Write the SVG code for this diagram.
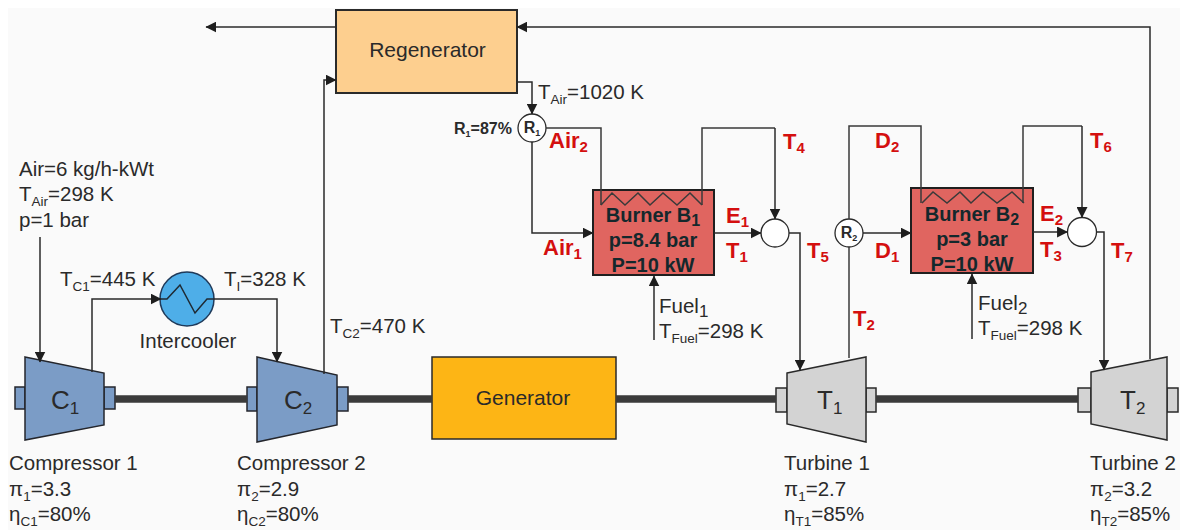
<svg xmlns="http://www.w3.org/2000/svg" width="1180" height="530" viewBox="0 0 1180 530">
<style>
text{font-family:"Liberation Sans",Arial,sans-serif;fill:#2a2a2a;font-size:20.5px}
.r{fill:#d40f0f;font-weight:bold;font-size:22px}
.r tspan{font-size:15px}
.b{font-weight:bold;fill:#14282c;font-size:20px}
.b tspan{font-size:16px}
.m{text-anchor:middle}
.s{font-size:13.5px}
.big{font-size:26px}
.big tspan{font-size:17px}
.sb{font-size:16px;font-weight:bold}
.sb tspan{font-size:9px}
.l{fill:none;stroke:#3a3a3a;stroke-width:1.5}
.a{fill:none;stroke:#2a2a2a;stroke-width:1.5;marker-end:url(#ah)}
.c{fill:#7b9cc6;stroke:#24262c;stroke-width:1.5}
.t{fill:#d3d3d3;stroke:#2a2a2a;stroke-width:1.5}
.sh{stroke:#3b3b3b;stroke-width:7.5;fill:none}
.o{fill:#fff;stroke:#2a2a2a;stroke-width:1.3}
.bu{fill:#e06560;stroke:#1f1f1f;stroke-width:2}
</style>
<defs>
<marker id="ah" viewBox="0 0 10 10" refX="9.5" refY="5" markerUnits="userSpaceOnUse" markerWidth="11" markerHeight="11" orient="auto"><path d="M0 0L10 5L0 10Z" fill="#1e1e1e"/></marker>
</defs>
<rect width="1180" height="530" fill="#fff"/>
<rect x="8" y="8" width="1172" height="522" fill="#fafafa"/>
<g id="compressor-1">
<rect class="c" x="15" y="387" width="10" height="22"/><rect class="c" x="104" y="387" width="11" height="22"/>
<path class="c" d="M25 357L104 373V425L25 440Z"/>
<text x="51" y="409" class="big">C<tspan dy="5">1</tspan></text>
<text x="9" y="470">Compressor 1</text>
<text x="9" y="496">π<tspan class="s" dy="5">1</tspan><tspan dy="-5">=3.3</tspan></text>
<text x="9" y="521">η<tspan class="s" dy="5">C1</tspan><tspan dy="-5">=80%</tspan></text>
</g>
<g id="compressor-2">
<rect class="c" x="247" y="387" width="10" height="24"/><rect class="c" x="337" y="387" width="11" height="24"/>
<path class="c" d="M257 357L337 375V425L257 442Z"/>
<text x="284" y="409" class="big">C<tspan dy="5">2</tspan></text>
<text x="237" y="470">Compressor 2</text>
<text x="237" y="496">π<tspan class="s" dy="5">2</tspan><tspan dy="-5">=2.9</tspan></text>
<text x="237" y="521">η<tspan class="s" dy="5">C2</tspan><tspan dy="-5">=80%</tspan></text>
</g>
<g id="intercooler">
<circle cx="187" cy="299" r="27" fill="#4eaee8" stroke="#1f3a5a" stroke-width="1.5"/>
<path d="M160 299H167L180 285L195 313L207 299H214" fill="none" stroke="#1f2a33" stroke-width="1.5"/>
<text x="188" y="348" class="m">Intercooler</text>
</g>
<g id="regenerator">
<rect x="336" y="10" width="181" height="83" fill="#fdcf8f" stroke="#2a2a2a" stroke-width="2"/>
<text x="427.5" y="57" class="m" style="font-size:21px">Regenerator</text>
</g>
<g id="generator">
<rect x="432" y="357" width="184" height="82" fill="#fdb515" stroke="#2a2a2a" stroke-width="1.5"/>
<text x="523" y="405" class="m" style="font-size:21px">Generator</text>
</g>
<g id="r1">
<circle class="o" cx="532" cy="128" r="14"/>
<text x="532" y="133" class="m sb">R<tspan dy="3">1</tspan></text>
<text x="454" y="134" class="sb">R<tspan dy="3">1</tspan><tspan dy="-3" style="font-size:16px">=87%</tspan></text>
</g>
<g id="burner-1">
<rect class="bu" x="593" y="190" width="121" height="85"/>
<path class="l" d="M601 205L612 193L625 205L638 193L650 205L663 193L677 205L690 193L702 205"/>
<text x="653" y="222" class="m b">Burner B<tspan dy="4">1</tspan></text>
<text x="653" y="247" class="m b">p=8.4 bar</text>
<text x="653" y="272" class="m b">P=10 kW</text>
</g>
<g id="mixer-1"><circle class="o" cx="775" cy="233" r="14"/></g>
<g id="r2">
<circle class="o" cx="849" cy="233" r="14"/>
<text x="849" y="238" class="m sb">R<tspan dy="3">2</tspan></text>
</g>
<g id="burner-2">
<rect class="bu" x="911" y="188" width="122" height="85"/>
<path class="l" d="M922 203L933 192L947 203L960 192L971 203L983 192L997 203L1012 192L1024 203"/>
<text x="972" y="221" class="m b">Burner B<tspan dy="4">2</tspan></text>
<text x="972" y="246" class="m b">p=3 bar</text>
<text x="972" y="271" class="m b">P=10 kW</text>
</g>
<g id="mixer-2"><circle class="o" cx="1082" cy="232" r="14.5"/></g>
<g id="turbine-1">
<rect class="t" x="776" y="388" width="11" height="24"/><rect class="t" x="866" y="388" width="10" height="24"/>
<path class="t" d="M787 373L866 357V442L787 424Z"/>
<text x="817" y="409" class="big">T<tspan dy="5">1</tspan></text>
<text x="784" y="470">Turbine 1</text>
<text x="784" y="496">π<tspan class="s" dy="5">1</tspan><tspan dy="-5">=2.7</tspan></text>
<text x="784" y="521">η<tspan class="s" dy="5">T1</tspan><tspan dy="-5">=85%</tspan></text>
</g>
<g id="turbine-2">
<rect class="t" x="1078" y="388" width="13" height="24"/><rect class="t" x="1167" y="388" width="11" height="24"/>
<path class="t" d="M1091 372L1167 357V440L1091 424Z"/>
<text x="1120" y="409" class="big">T<tspan dy="5">2</tspan></text>
<text x="1090" y="470">Turbine 2</text>
<text x="1090" y="496">π<tspan class="s" dy="5">2</tspan><tspan dy="-5">=3.2</tspan></text>
<text x="1090" y="521">η<tspan class="s" dy="5">T2</tspan><tspan dy="-5">=85%</tspan></text>
</g>
<g id="connectors">
<path class="sh" d="M115 399H247M348 399H432M616 399H776M876 399H1078"/>
<path class="a" d="M40 237V362"/>
<path class="a" d="M92 372V299H161"/>
<path class="a" d="M214 299H277V362"/>
<path class="a" d="M324 374V80H336"/>
<path class="a" d="M336 27H206"/>
<path class="a" d="M1150 359V27H517"/>
<path class="a" d="M517 82H532V114"/>
<path class="a" d="M532 142V233H593"/>
<path class="l" d="M546 128H601V205"/>
<path class="l" d="M702 205V128H775"/><path class="a" d="M775 128V219"/>
<path class="a" d="M714 233H761"/>
<path class="a" d="M789 233H800V370"/>
<path class="a" d="M654 340V276"/>
<path class="l" d="M849 358V247"/>
<path class="l" d="M849 219V126H921V203"/>
<path class="l" d="M1023 203V126H1082"/><path class="a" d="M1082 126V217.500"/>
<path class="a" d="M863 233H911"/>
<path class="a" d="M1033 232H1067.500"/>
<path class="a" d="M1096.500 232H1104V370"/>
<path class="a" d="M972 339V274"/>
</g>
<g id="labels">
<text x="19" y="176">Air=6 kg/h-kWt</text>
<text x="19" y="201">T<tspan class="s" dy="5">Air</tspan><tspan dy="-5">=298 K</tspan></text>
<text x="19" y="227">p=1 bar</text>
<text x="60" y="286">T<tspan class="s" dy="5">C1</tspan><tspan dy="-5">=445 K</tspan></text>
<text x="224" y="286">T<tspan class="s" dy="5">I</tspan><tspan dy="-5">=328 K</tspan></text>
<text x="330" y="333">T<tspan class="s" dy="5">C2</tspan><tspan dy="-5">=470 K</tspan></text>
<text x="538" y="99">T<tspan class="s" dy="5">Air</tspan><tspan dy="-5">=1020 K</tspan></text>
<text x="659" y="313">Fuel<tspan dy="4" style="font-size:17px">1</tspan></text>
<text x="659" y="338">T<tspan class="s" dy="5">Fuel</tspan><tspan dy="-5">=298 K</tspan></text>
<text x="978" y="310">Fuel<tspan dy="4" style="font-size:17px">2</tspan></text>
<text x="978" y="335">T<tspan class="s" dy="5">Fuel</tspan><tspan dy="-5">=298 K</tspan></text>
<text x="549" y="148" class="r">Air<tspan dy="4">2</tspan></text>
<text x="543" y="255" class="r">Air<tspan dy="4">1</tspan></text>
<text x="726" y="223" class="r">E<tspan dy="4">1</tspan></text>
<text x="726" y="258" class="r">T<tspan dy="4">1</tspan></text>
<text x="783" y="149" class="r">T<tspan dy="4">4</tspan></text>
<text x="807" y="258" class="r">T<tspan dy="4">5</tspan></text>
<text x="875" y="148" class="r">D<tspan dy="4">2</tspan></text>
<text x="875" y="258" class="r">D<tspan dy="4">1</tspan></text>
<text x="853" y="326" class="r">T<tspan dy="4">2</tspan></text>
<text x="1040" y="221" class="r">E<tspan dy="4">2</tspan></text>
<text x="1040" y="257" class="r">T<tspan dy="4">3</tspan></text>
<text x="1090" y="148" class="r">T<tspan dy="4">6</tspan></text>
<text x="1111" y="258" class="r">T<tspan dy="4">7</tspan></text>
</g>
</svg>
